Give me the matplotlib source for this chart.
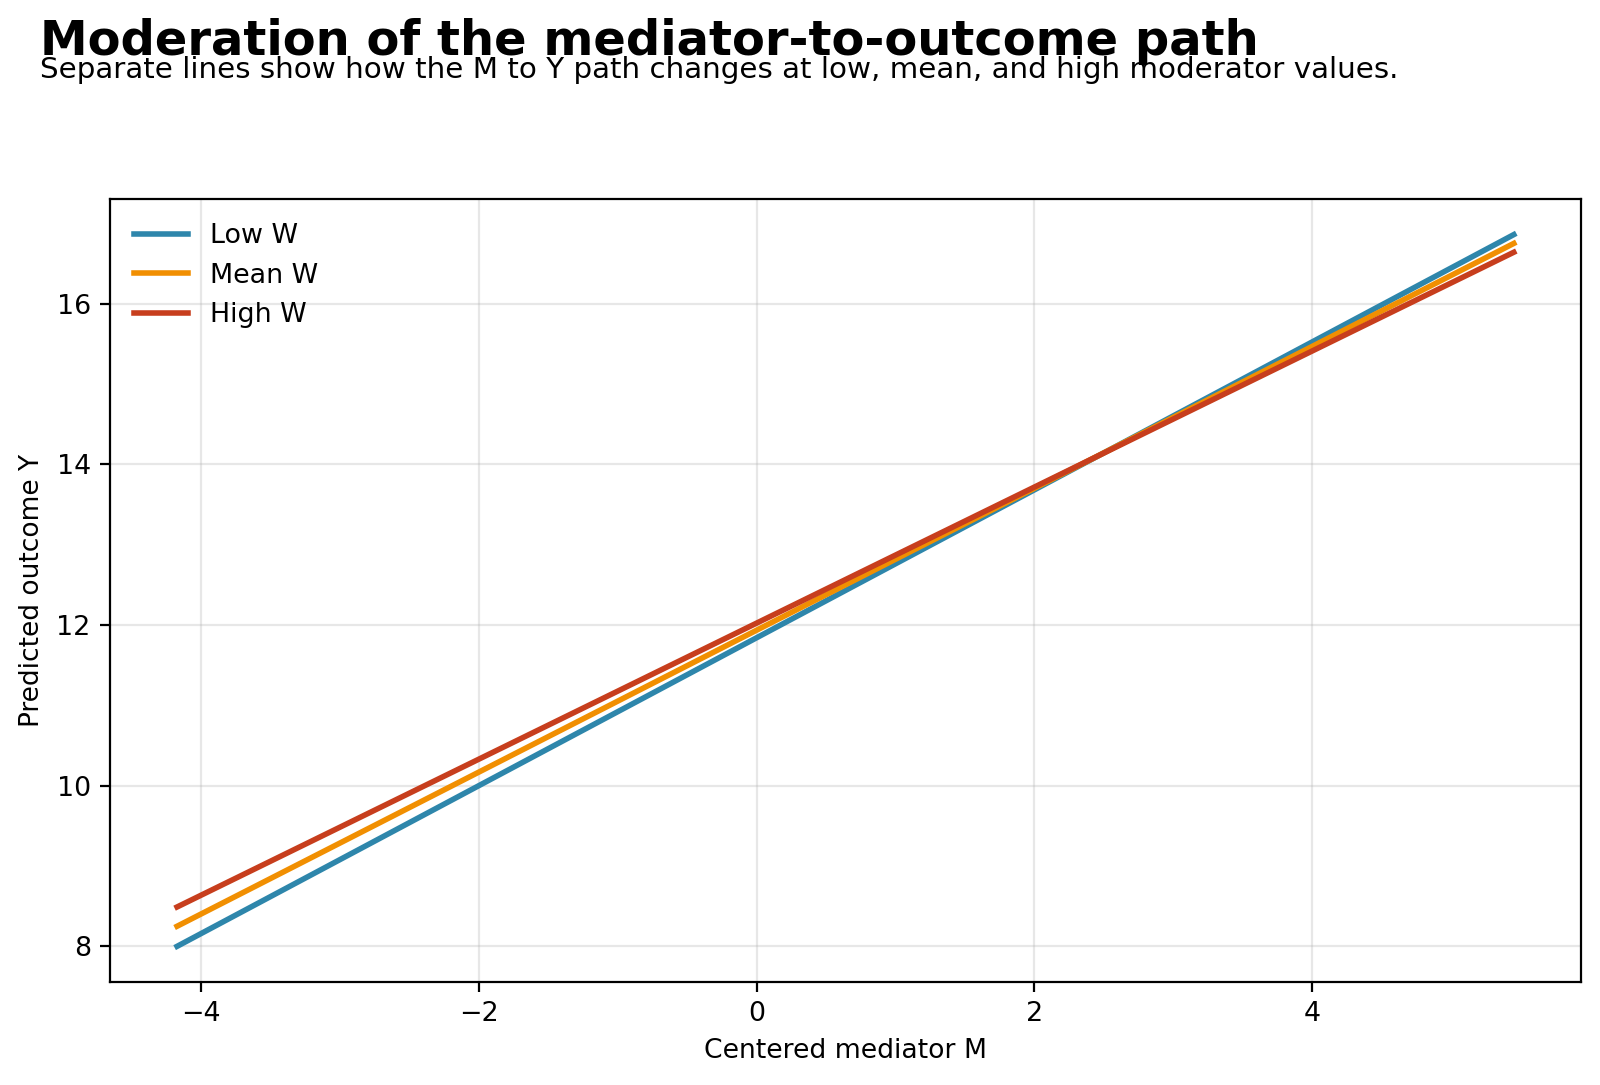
import matplotlib
matplotlib.use("Agg")
import matplotlib.pyplot as plt

# Data
m_values = [-4.17, 5.45]
low_w = [8.00, 16.86]
mean_w = [8.25, 16.75]
high_w = [8.49, 16.64]
series_labels = ["Low W", "Mean W", "High W"]
series_colors = ["#2E86AB", "#F18F01", "#C73E1D"]

fig = plt.figure(figsize=(8, 5.425), dpi=200)
ax = fig.add_axes([0.0689, 0.095, 0.919, 0.7216])

for vals, lab, col in zip([low_w, mean_w, high_w], series_labels, series_colors):
    ax.plot(m_values, vals, color=col, lw=2.0, label=lab)

ax.grid(True, color="#b0b0b0", alpha=0.3, lw=0.8)
ax.set_axisbelow(True)
ax.set_xlabel("Centered mediator M", fontsize=9.6)
ax.set_ylabel("Predicted outcome Y", fontsize=9.5)
ax.tick_params(labelsize=9.7)
ax.legend(loc="upper left", frameon=False, fontsize=9.7)

fig.text(0.025, 0.983, "Moderation of the mediator-to-outcome path",
         fontsize=17.3, fontweight="bold", va="top", ha="left")
fig.text(0.025, 0.948, "Separate lines show how the M to Y path changes at low, mean, and high moderator values.",
         fontsize=10.6, va="top", ha="left")

fig.savefig("out.png", dpi=200)
